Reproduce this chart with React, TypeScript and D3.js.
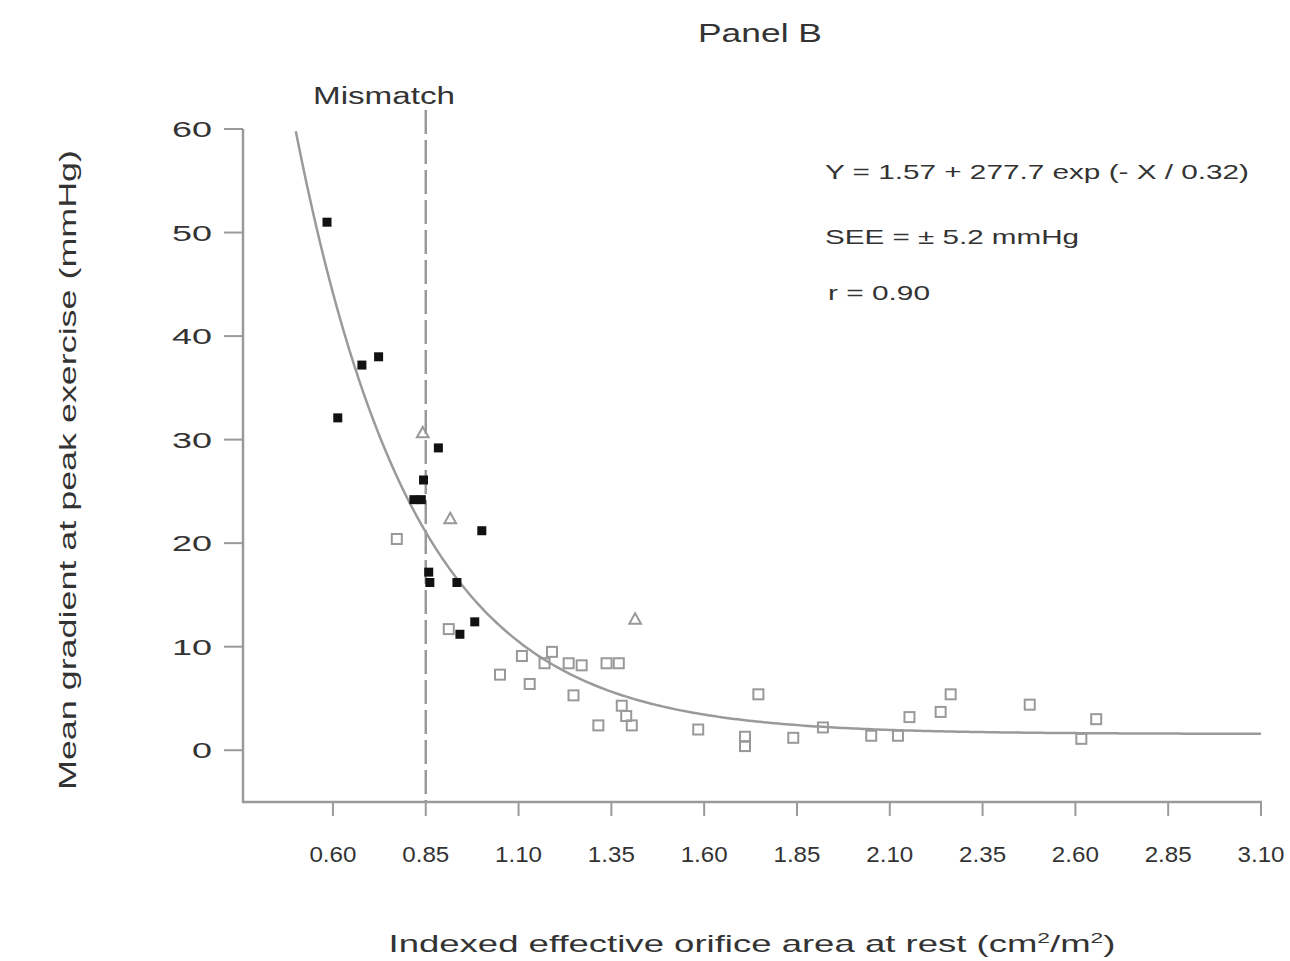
import React from "react";
import * as d3 from "d3";

const xTicks = [0.6, 0.85, 1.1, 1.35, 1.6, 1.85, 2.1, 2.35, 2.6, 2.85, 3.1];
const yTicks = [0, 10, 20, 30, 40, 50, 60];

const filledX = [0.584, 0.613, 0.678, 0.723, 0.818, 0.838, 0.844, 0.884, 1.001, 0.858, 0.861, 0.934, 0.982, 0.942];
const filledY = [51.0, 32.1, 37.2, 38.0, 24.2, 24.2, 26.1, 29.2, 21.2, 17.2, 16.2, 16.2, 12.4, 11.2];

const openX = [0.772, 0.912, 1.05, 1.13, 1.109, 1.19, 1.17, 1.235, 1.27, 1.337, 1.37, 1.248, 1.315, 1.378, 1.39, 1.405, 1.584, 1.746, 1.71, 1.71, 1.84, 1.92, 2.05, 2.122, 2.153, 2.237, 2.264, 2.477, 2.616, 2.656];
const openY = [20.4, 11.7, 7.3, 6.4, 9.1, 9.5, 8.4, 8.4, 8.2, 8.4, 8.4, 5.3, 2.4, 4.3, 3.3, 2.4, 2.0, 5.4, 1.3, 0.4, 1.2, 2.2, 1.4, 1.4, 3.2, 3.7, 5.4, 4.4, 1.1, 3.0];

const triX = [0.842, 0.916, 1.414];
const triY = [30.6, 22.3, 12.6];

const fitA = 1.57;
const fitB = 277.7;
const fitT = 0.32;
const mismatchX = 0.85;

export default function App() {
  const x = d3.scaleLinear().domain([0.355, 3.1]).range([242, 1261]);
  const y = d3.scaleLinear().domain([-5, 60]).range([802, 129]);
  const font = "'Liberation Sans', Arial, sans-serif";
  const txt = "#333";
  const gray = "#9a9a9a";

  const curvePts: [number, number][] = d3.range(0.5, 3.1001, 0.01).map((v) => [v, fitA + fitB * Math.exp(-v / fitT)]);
  const line = d3.line<[number, number]>().x((d) => x(d[0])).y((d) => y(d[1]))(curvePts) || "";

  const tri = (cx: number, cy: number, r: number) =>
    `M${cx},${cy - r}L${cx + r * 0.9},${cy + r * 0.6}L${cx - r * 0.9},${cy + r * 0.6}Z`;

  return (
    <svg width={1290} height={961} style={{ position: "absolute", left: 0, top: 0, background: "#fff" }}>
      <rect x={0} y={0} width={1290} height={961} fill="#fff" />
      <text x={760} y={42} fontSize={26} fontFamily={font} fill={txt} textAnchor="middle" textLength={124} lengthAdjust="spacingAndGlyphs">Panel B</text>
      <text x={384} y={104} fontSize={23} fontFamily={font} fill={txt} textAnchor="middle" textLength={142} lengthAdjust="spacingAndGlyphs">Mismatch</text>

      {/* axes */}
      <line x1={243} x2={243} y1={y(60)} y2={803} stroke={gray} strokeWidth={2.5} />
      <line x1={242} x2={1262} y1={802} y2={802} stroke={gray} strokeWidth={2.5} />
      {yTicks.map((t) => (
        <g key={"y" + t}>
          <line x1={224} x2={243} y1={y(t)} y2={y(t)} stroke={gray} strokeWidth={2} />
          <text x={212} y={y(t) + 8} fontSize={22} fontFamily={font} fill={txt} textAnchor="end" textLength={String(t).length * 20} lengthAdjust="spacingAndGlyphs">{t}</text>
        </g>
      ))}
      {xTicks.map((t) => (
        <g key={"x" + t}>
          <line x1={x(t)} x2={x(t)} y1={802} y2={816} stroke={gray} strokeWidth={2} />
          <text x={x(t)} y={862} fontSize={22} fontFamily={font} fill={txt} textAnchor="middle" textLength={47} lengthAdjust="spacingAndGlyphs">{t.toFixed(2)}</text>
        </g>
      ))}

      {/* mismatch line */}
      <line x1={x(mismatchX)} x2={x(mismatchX)} y1={110} y2={802} stroke={gray} strokeWidth={2.5} strokeDasharray="24 6" />

      {/* fit curve */}
      <path d={line} fill="none" stroke={gray} strokeWidth={2.5} />

      {/* points */}
      {openX.map((v, i) => (
        <rect key={"o" + i} x={x(v) - 5} y={y(openY[i]) - 5} width={10} height={10} fill="none" stroke="#999" strokeWidth={2} />
      ))}
      {triX.map((v, i) => (
        <path key={"t" + i} d={tri(x(v), y(triY[i]), 6.5)} fill="none" stroke="#999" strokeWidth={2} />
      ))}
      {filledX.map((v, i) => (
        <rect key={"f" + i} x={x(v) - 4.5} y={y(filledY[i]) - 4.5} width={9} height={9} fill="#111" />
      ))}

      {/* annotations */}
      <text x={825} y={179} fontSize={21} fontFamily={font} fill={txt} textLength={424} lengthAdjust="spacingAndGlyphs">Y = 1.57 + 277.7 exp (- X / 0.32)</text>
      <text x={825} y={244} fontSize={21} fontFamily={font} fill={txt} textLength={254} lengthAdjust="spacingAndGlyphs">SEE = ± 5.2 mmHg</text>
      <text x={828} y={300} fontSize={21} fontFamily={font} fill={txt} textLength={102} lengthAdjust="spacingAndGlyphs">r = 0.90</text>

      {/* axis titles */}
      <text transform="translate(76,470) rotate(-90)" fontSize={24} fontFamily={font} fill={txt} textAnchor="middle" textLength={640} lengthAdjust="spacingAndGlyphs">Mean gradient at peak exercise  (mmHg)</text>
      <text x={752} y={952} fontSize={24} fontFamily={font} fill={txt} textAnchor="middle" textLength={727} lengthAdjust="spacingAndGlyphs">
        Indexed effective orifice area at rest  (cm<tspan dy={-9} fontSize={15}>2</tspan><tspan dy={9}>/m</tspan><tspan dy={-9} fontSize={15}>2</tspan><tspan dy={9}>)</tspan>
      </text>
    </svg>
  );
}
